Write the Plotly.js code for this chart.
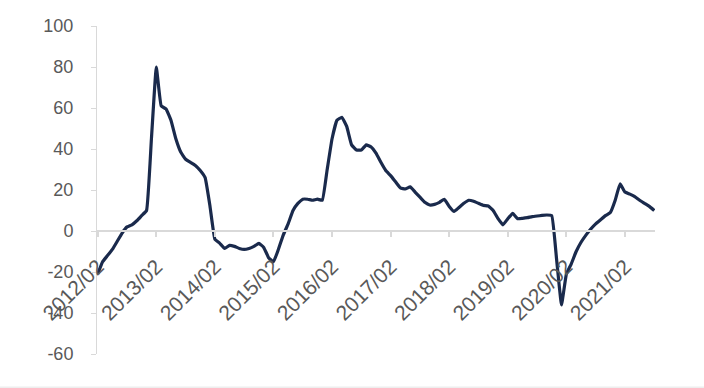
<!DOCTYPE html>
<html>
<head>
<meta charset="utf-8">
<script src="https://cdn.plot.ly/plotly-3.0.1.min.js"></script>
<style>html,body{margin:0;padding:0;background:#fff;}#chart{width:704px;height:388px;}</style>
</head>
<body>
<div id="chart"></div>
<script>
const months = [
"2012/02","2012/03","2012/04","2012/05","2012/06","2012/07","2012/08","2012/09","2012/10","2012/11","2012/12","2013/01",
"2013/02","2013/03","2013/04","2013/05","2013/06","2013/07","2013/08","2013/09","2013/10","2013/11","2013/12","2014/01",
"2014/02","2014/03","2014/04","2014/05","2014/06","2014/07","2014/08","2014/09","2014/10","2014/11","2014/12","2015/01",
"2015/02","2015/03","2015/04","2015/05","2015/06","2015/07","2015/08","2015/09","2015/10","2015/11","2015/12","2016/01",
"2016/02","2016/03","2016/04","2016/05","2016/06","2016/07","2016/08","2016/09","2016/10","2016/11","2016/12","2017/01",
"2017/02","2017/03","2017/04","2017/05","2017/06","2017/07","2017/08","2017/09","2017/10","2017/11","2017/12","2018/01",
"2018/02","2018/03","2018/04","2018/05","2018/06","2018/07","2018/08","2018/09","2018/10","2018/11","2018/12","2019/01",
"2019/02","2019/03","2019/04","2019/05","2019/06","2019/07","2019/08","2019/09","2019/10","2019/11","2019/12","2020/01",
"2020/02","2020/03","2020/04","2020/05","2020/06","2020/07","2020/08","2020/09","2020/10","2020/11","2020/12","2021/01",
"2021/02","2021/03","2021/04","2021/05","2021/06","2021/07","2021/08"
];
const values = [
-21,-15,-12,-9,-5,-1,2,3,5,7.5,10,45,
80,61,59.5,54,45,38.5,35,33.5,32,29.5,26,12,
-4,-6,-8.5,-7,-7.5,-8.5,-9,-8.5,-7.5,-6,-8,-13,
-15,-9,-2,3.5,10,13.5,15.5,15.5,15,15.5,15,30,
45,54,55.5,51,42,39.5,39.5,42,41,38,33.5,29.5,
27,24,21,20.5,21.5,19,16.5,14,12.7,13,14,15.5,
12,9.5,11.5,13.5,15,14.5,13.5,12.5,12.2,10,6,3,
6,8.6,6,6.2,6.5,7,7.3,7.6,7.8,7.5,-14,-36,
-21,-16,-10,-5.5,-2,1,3.5,5.5,7.5,9,15,23,
19,18,16.8,15,13.5,12,10
];
const tickLabels = ["2012/02","2013/02","2014/02","2015/02","2016/02","2017/02","2018/02","2019/02","2020/02","2021/02"];
const yTicks = [-60,-40,-20,0,20,40,60,80,100];
const yTickText = ["-60","-40","-20","0","20","40","60","80","100"];

const trace = {
  x: months, y: values, type: 'scatter', mode: 'lines',
  line: {color: '#1a2a4c', width: 3.2, shape: 'spline', smoothing: 0.3}, hoverinfo: 'skip'
};
const fontFam = 'Liberation Sans, Arial, sans-serif';
const layout = {
  width: 704, height: 388,
  margin: {l: 97, r: 49, t: 26, b: 34},
  paper_bgcolor: '#ffffff', plot_bgcolor: '#ffffff',
  showlegend: false,
  xaxis: {
    type: 'category', range: [-0.15, months.length - 1 + 0.15],
    anchor: 'free', position: 60/160,
    showline: true, linecolor: '#d9d9d9', linewidth: 2,
    showgrid: false, zeroline: false,
    ticks: 'outside', ticklen: 5, tickcolor: '#d9d9d9', tickwidth: 2,
    tickmode: 'array', tickvals: tickLabels, ticktext: tickLabels,
    tickangle: -45, ticklabelstandoff: 9,
    tickfont: {family: fontFam, size: 21, color: '#595959'}
  },
  yaxis: {
    range: [-60, 100], tickmode: 'array', tickvals: yTicks, ticktext: yTickText,
    showline: true, linecolor: '#d9d9d9', linewidth: 1,
    showgrid: false, zeroline: false,
    ticks: 'outside', ticklen: 5, tickcolor: '#d9d9d9',
    ticklabelstandoff: 14, tickfont: {family: fontFam, size: 18, color: '#595959'}
  },
  shapes: [{type: 'rect', xref: 'paper', yref: 'paper', x0: -0.2, x1: 1.1, y0: -0.105, y1: -0.099, fillcolor: '#eeeeee', line: {width: 0}, layer: 'below'}]
};
Plotly.newPlot('chart', [trace], layout, {displayModeBar: false, staticPlot: true});
</script>
</body>
</html>
